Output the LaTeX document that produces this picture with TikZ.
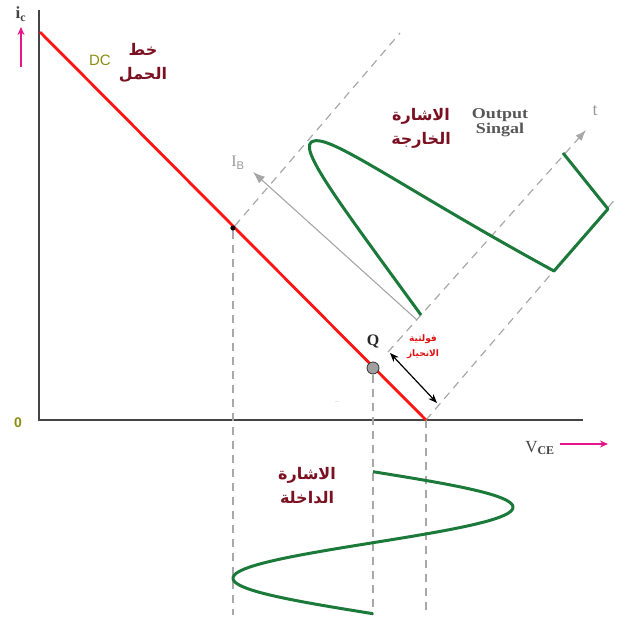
\documentclass[tikz,border=0pt]{standalone}
\usepackage{fontspec}
\setmainfont{Liberation Serif}
\setsansfont{Liberation Sans}
\newfontfamily\arabicfont[Script=Arabic]{DejaVu Sans}
\TeXXeTstate=1
\usetikzlibrary{arrows.meta}
\definecolor{loadred}{HTML}{FF1414}
\definecolor{wavegreen}{HTML}{1B7A3A}
\definecolor{maroontxt}{HTML}{7A1020}
\definecolor{axisgray}{HTML}{444444}
\definecolor{dashgray}{HTML}{A8A8A8}
\definecolor{pinkarrow}{HTML}{E6168A}
\definecolor{olivetxt}{HTML}{8C8C14}
\definecolor{biasred}{HTML}{E01010}
\tikzset{
  axisline/.style={draw=axisgray, line width=2pt},
  loadline/.style={draw=loadred, line width=2.8pt},
  guide/.style={draw=dashgray, line width=1.2pt, dash pattern=on 8pt off 6pt},
  wave/.style={draw=wavegreen, line width=3pt, line join=round},
  pinkarr/.style={draw=pinkarrow, line width=1.4pt, -{Stealth[length=8pt,width=7pt]}},
  arlabel/.style={text=maroontxt, font=\arabicfont\bfseries\fontsize{16}{24}\selectfont, align=center, inner sep=0pt},
}
\begin{document}
\begin{tikzpicture}[x=1pt,y=-1pt]
\useasboundingbox (0,0) rectangle (619,621);
% axes
\coordinate (ytop) at (39,10);
\coordinate (orig) at (39,420);
\coordinate (xend) at (583,420);
\draw[axisline] (ytop) -- (orig) -- (xend);
% key points
\coordinate (ls) at (40,32);
\coordinate (le) at (426,420);
\node[circle, fill=black, inner sep=0pt, minimum size=5pt] (dot) at (233,228) {};
% dashed guides
\coordinate (cTop) at (400,33);
\coordinate (bTop) at (617,197);
\coordinate (aBot) at (388,352);
\coordinate (aTop) at (586,130);
\coordinate (v1b) at (233,615);
\coordinate (v2b) at (373,615);
\coordinate (v3b) at (426,615);
\draw[guide] (dot) -- (cTop);
\draw[guide] (le) -- (bTop);
\draw[guide, -{Latex[length=11pt,width=8pt]}] (aBot) -- (aTop);
\draw[guide] (dot) -- (v1b);
\draw[guide] (373,375) -- (v2b);
\draw[guide] (le) -- (v3b);
% load line
\draw[loadline] (ls) -- (le);
\node[circle, fill=black, inner sep=0pt, minimum size=5pt] (dot2) at (233,228) {};
% Q point
\node[circle, fill=gray!75, draw=gray!40!black, line width=0.8pt, minimum size=12pt, inner sep=0pt] (qpt) at (373,368) {};
\node[font=\bfseries\fontsize{16}{16}\selectfont, text=black!85] (qlab) at (373,341) {Q};
% IB arrow
\coordinate (ibs) at (417,320);
\coordinate (ibe) at (253,172);
\draw[draw=gray!70, line width=1.1pt, -{Latex[length=12pt,width=9pt]}, color=gray!70] (ibs) -- (ibe);
\node[text=gray!80, font=\fontsize{16}{16}\selectfont] (iblab) at (238,163) {I\textsubscript{\sffamily B}};
% bias arrow
\coordinate (bs) at (390,353);
\coordinate (be) at (437,403);
\draw[black, line width=1.2pt, {Stealth[length=9pt,width=7pt]}-{Stealth[length=9pt,width=7pt]}] (bs) -- (be);
\node[text=biasred, font=\arabicfont\bfseries\fontsize{9}{15}\selectfont, align=center, inner sep=0pt] (biaslab) at (423,347) {\beginR فولتية\endR\\\beginR الانحياز\endR};
% output wave
\coordinate (w0) at (421,315);
\coordinate (w1) at (320,141);
\coordinate (w2) at (554,271);
\coordinate (w3) at (608,209);
\coordinate (w4) at (563,153);
\draw[wave] (w0) .. controls (330,190) and (288,136) .. (w1)
  .. controls (345,145) and (420,198) .. (w2) -- (w3) -- (w4);
% input wave
\draw[wave] plot[domain=0:142, samples=120, smooth, variable=\t] ({373+140*sin(2.5352*\t)}, {471.7+\t});
% labels
\node[font=\bfseries\fontsize{17}{17}\selectfont, text=axisgray] (iclab) at (21,14) {i\textsubscript{c}};
\coordinate (icb) at (21,67);
\coordinate (ict) at (21,27);
\draw[pinkarr] (icb) -- (ict);
\node[font=\sffamily\bfseries\fontsize{14}{14}\selectfont, text=olivetxt] (zero) at (18,423) {0};
\node[font=\fontsize{17}{17}\selectfont, text=axisgray] (vce) at (540,448) {V\textsubscript{\bfseries CE}};
\coordinate (vas) at (560,444);
\coordinate (vae) at (608,444);
\draw[pinkarr] (vas) -- (vae);
\node[font=\sffamily\fontsize{15}{15}\selectfont, text=olivetxt] (dclab) at (100,60) {DC};
\node[arlabel] (loadlab) at (143,63) {\beginR خط\endR\\\beginR الحمل\endR};
\node[arlabel] (outar) at (421,128) {\beginR الاشارة\endR\\\beginR الخارجة\endR};
\node[font=\bfseries\fontsize{15}{15}\selectfont, text=axisgray!90, align=center, inner sep=0pt] (outen) at (500,123) {\scalebox{1.2}[1]{Output}\\\scalebox{1.2}[1]{Singal}};
\node[font=\fontsize{18}{18}\selectfont, text=gray!80] (tlab) at (595,111) {t};
\node[arlabel] (inar) at (307,486) {\beginR الاشارة\endR\\\beginR الداخلة\endR};
\node[text=gray!60, font=\fontsize{8}{8}\selectfont] (dots) at (337,402) {..};
\end{tikzpicture}
\end{document}
